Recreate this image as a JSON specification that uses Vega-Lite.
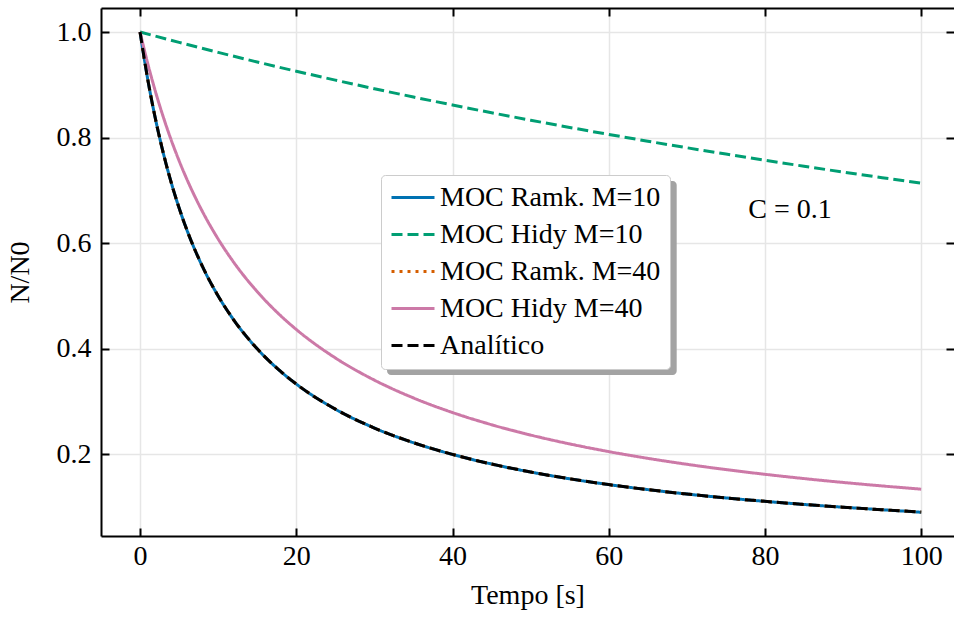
{
  "$schema": "https://vega.github.io/schema/vega-lite/v6.json",
  "width": 853,
  "height": 528,
  "autosize": {"type": "none"},
  "padding": {"left": 101, "top": 8, "right": 0, "bottom": 82},
  "background": "white",
  "config": {
    "font": "Liberation Serif",
    "view": {"stroke": null},
    "legend": {
      "orient": "none",
      "legendX": 280,
      "legendY": 167,
      "title": null,
      "symbolType": "stroke",
      "symbolSize": 1849,
      "symbolStrokeWidth": 3,
      "labelFont": "Liberation Serif",
      "labelFontSize": 28,
      "labelColor": "black",
      "labelLimit": 400,
      "labelOffset": 4,
      "padding": 9,
      "rowPadding": 8,
      "clipHeight": 27,
      "fillColor": "white",
      "strokeColor": "#cccccc",
      "cornerRadius": 4
    }
  },
  "data": {
    "values": [
      {"t": 0, "y": 1, "s": "MOC Ramk. M=10"},
      {"t": 1, "y": 0.90909, "s": "MOC Ramk. M=10"},
      {"t": 2, "y": 0.83333, "s": "MOC Ramk. M=10"},
      {"t": 3, "y": 0.76923, "s": "MOC Ramk. M=10"},
      {"t": 4, "y": 0.71429, "s": "MOC Ramk. M=10"},
      {"t": 5, "y": 0.66667, "s": "MOC Ramk. M=10"},
      {"t": 6, "y": 0.625, "s": "MOC Ramk. M=10"},
      {"t": 8, "y": 0.55556, "s": "MOC Ramk. M=10"},
      {"t": 10, "y": 0.5, "s": "MOC Ramk. M=10"},
      {"t": 12, "y": 0.45455, "s": "MOC Ramk. M=10"},
      {"t": 15, "y": 0.4, "s": "MOC Ramk. M=10"},
      {"t": 18, "y": 0.35714, "s": "MOC Ramk. M=10"},
      {"t": 20, "y": 0.33333, "s": "MOC Ramk. M=10"},
      {"t": 25, "y": 0.28571, "s": "MOC Ramk. M=10"},
      {"t": 30, "y": 0.25, "s": "MOC Ramk. M=10"},
      {"t": 35, "y": 0.22222, "s": "MOC Ramk. M=10"},
      {"t": 40, "y": 0.2, "s": "MOC Ramk. M=10"},
      {"t": 45, "y": 0.18182, "s": "MOC Ramk. M=10"},
      {"t": 50, "y": 0.16667, "s": "MOC Ramk. M=10"},
      {"t": 55, "y": 0.15385, "s": "MOC Ramk. M=10"},
      {"t": 60, "y": 0.14286, "s": "MOC Ramk. M=10"},
      {"t": 65, "y": 0.13333, "s": "MOC Ramk. M=10"},
      {"t": 70, "y": 0.125, "s": "MOC Ramk. M=10"},
      {"t": 75, "y": 0.11765, "s": "MOC Ramk. M=10"},
      {"t": 80, "y": 0.11111, "s": "MOC Ramk. M=10"},
      {"t": 85, "y": 0.10526, "s": "MOC Ramk. M=10"},
      {"t": 90, "y": 0.1, "s": "MOC Ramk. M=10"},
      {"t": 95, "y": 0.09524, "s": "MOC Ramk. M=10"},
      {"t": 100, "y": 0.0905, "s": "MOC Ramk. M=10"},

      {"t": 0, "y": 1, "s": "MOC Hidy M=10"},
      {"t": 5, "y": 0.98034, "s": "MOC Hidy M=10"},
      {"t": 10, "y": 0.96145, "s": "MOC Hidy M=10"},
      {"t": 15, "y": 0.94326, "s": "MOC Hidy M=10"},
      {"t": 20, "y": 0.92575, "s": "MOC Hidy M=10"},
      {"t": 25, "y": 0.90888, "s": "MOC Hidy M=10"},
      {"t": 30, "y": 0.89262, "s": "MOC Hidy M=10"},
      {"t": 35, "y": 0.87692, "s": "MOC Hidy M=10"},
      {"t": 40, "y": 0.86177, "s": "MOC Hidy M=10"},
      {"t": 45, "y": 0.84714, "s": "MOC Hidy M=10"},
      {"t": 50, "y": 0.83299, "s": "MOC Hidy M=10"},
      {"t": 55, "y": 0.8193, "s": "MOC Hidy M=10"},
      {"t": 60, "y": 0.80606, "s": "MOC Hidy M=10"},
      {"t": 65, "y": 0.79324, "s": "MOC Hidy M=10"},
      {"t": 70, "y": 0.78082, "s": "MOC Hidy M=10"},
      {"t": 75, "y": 0.76879, "s": "MOC Hidy M=10"},
      {"t": 80, "y": 0.75712, "s": "MOC Hidy M=10"},
      {"t": 85, "y": 0.74579, "s": "MOC Hidy M=10"},
      {"t": 90, "y": 0.73481, "s": "MOC Hidy M=10"},
      {"t": 95, "y": 0.72414, "s": "MOC Hidy M=10"},
      {"t": 100, "y": 0.71378, "s": "MOC Hidy M=10"},

      {"t": 0, "y": 1, "s": "MOC Ramk. M=40"},
      {"t": 1, "y": 0.90909, "s": "MOC Ramk. M=40"},
      {"t": 2, "y": 0.83333, "s": "MOC Ramk. M=40"},
      {"t": 3, "y": 0.76923, "s": "MOC Ramk. M=40"},
      {"t": 4, "y": 0.71429, "s": "MOC Ramk. M=40"},
      {"t": 5, "y": 0.66667, "s": "MOC Ramk. M=40"},
      {"t": 6, "y": 0.625, "s": "MOC Ramk. M=40"},
      {"t": 8, "y": 0.55556, "s": "MOC Ramk. M=40"},
      {"t": 10, "y": 0.5, "s": "MOC Ramk. M=40"},
      {"t": 12, "y": 0.45455, "s": "MOC Ramk. M=40"},
      {"t": 15, "y": 0.4, "s": "MOC Ramk. M=40"},
      {"t": 18, "y": 0.35714, "s": "MOC Ramk. M=40"},
      {"t": 20, "y": 0.33333, "s": "MOC Ramk. M=40"},
      {"t": 25, "y": 0.28571, "s": "MOC Ramk. M=40"},
      {"t": 30, "y": 0.25, "s": "MOC Ramk. M=40"},
      {"t": 35, "y": 0.22222, "s": "MOC Ramk. M=40"},
      {"t": 40, "y": 0.2, "s": "MOC Ramk. M=40"},
      {"t": 45, "y": 0.18182, "s": "MOC Ramk. M=40"},
      {"t": 50, "y": 0.16667, "s": "MOC Ramk. M=40"},
      {"t": 55, "y": 0.15385, "s": "MOC Ramk. M=40"},
      {"t": 60, "y": 0.14286, "s": "MOC Ramk. M=40"},
      {"t": 65, "y": 0.13333, "s": "MOC Ramk. M=40"},
      {"t": 70, "y": 0.125, "s": "MOC Ramk. M=40"},
      {"t": 75, "y": 0.11765, "s": "MOC Ramk. M=40"},
      {"t": 80, "y": 0.11111, "s": "MOC Ramk. M=40"},
      {"t": 85, "y": 0.10526, "s": "MOC Ramk. M=40"},
      {"t": 90, "y": 0.1, "s": "MOC Ramk. M=40"},
      {"t": 95, "y": 0.09524, "s": "MOC Ramk. M=40"},
      {"t": 100, "y": 0.09091, "s": "MOC Ramk. M=40"},

      {"t": 0, "y": 1, "s": "MOC Hidy M=40"},
      {"t": 1, "y": 0.93941, "s": "MOC Hidy M=40"},
      {"t": 2, "y": 0.88574, "s": "MOC Hidy M=40"},
      {"t": 3, "y": 0.83787, "s": "MOC Hidy M=40"},
      {"t": 4, "y": 0.79491, "s": "MOC Hidy M=40"},
      {"t": 5, "y": 0.75614, "s": "MOC Hidy M=40"},
      {"t": 6, "y": 0.72098, "s": "MOC Hidy M=40"},
      {"t": 8, "y": 0.65963, "s": "MOC Hidy M=40"},
      {"t": 10, "y": 0.6079, "s": "MOC Hidy M=40"},
      {"t": 12, "y": 0.5637, "s": "MOC Hidy M=40"},
      {"t": 15, "y": 0.50826, "s": "MOC Hidy M=40"},
      {"t": 18, "y": 0.46275, "s": "MOC Hidy M=40"},
      {"t": 20, "y": 0.43668, "s": "MOC Hidy M=40"},
      {"t": 25, "y": 0.38278, "s": "MOC Hidy M=40"},
      {"t": 30, "y": 0.34072, "s": "MOC Hidy M=40"},
      {"t": 35, "y": 0.30698, "s": "MOC Hidy M=40"},
      {"t": 40, "y": 0.27933, "s": "MOC Hidy M=40"},
      {"t": 45, "y": 0.25625, "s": "MOC Hidy M=40"},
      {"t": 50, "y": 0.23669, "s": "MOC Hidy M=40"},
      {"t": 55, "y": 0.2199, "s": "MOC Hidy M=40"},
      {"t": 60, "y": 0.20534, "s": "MOC Hidy M=40"},
      {"t": 65, "y": 0.19259, "s": "MOC Hidy M=40"},
      {"t": 70, "y": 0.18132, "s": "MOC Hidy M=40"},
      {"t": 75, "y": 0.17131, "s": "MOC Hidy M=40"},
      {"t": 80, "y": 0.16234, "s": "MOC Hidy M=40"},
      {"t": 85, "y": 0.15426, "s": "MOC Hidy M=40"},
      {"t": 90, "y": 0.14695, "s": "MOC Hidy M=40"},
      {"t": 95, "y": 0.1403, "s": "MOC Hidy M=40"},
      {"t": 100, "y": 0.13423, "s": "MOC Hidy M=40"},

      {"t": 0, "y": 1, "s": "Analítico"},
      {"t": 1, "y": 0.90909, "s": "Analítico"},
      {"t": 2, "y": 0.83333, "s": "Analítico"},
      {"t": 3, "y": 0.76923, "s": "Analítico"},
      {"t": 4, "y": 0.71429, "s": "Analítico"},
      {"t": 5, "y": 0.66667, "s": "Analítico"},
      {"t": 6, "y": 0.625, "s": "Analítico"},
      {"t": 8, "y": 0.55556, "s": "Analítico"},
      {"t": 10, "y": 0.5, "s": "Analítico"},
      {"t": 12, "y": 0.45455, "s": "Analítico"},
      {"t": 15, "y": 0.4, "s": "Analítico"},
      {"t": 18, "y": 0.35714, "s": "Analítico"},
      {"t": 20, "y": 0.33333, "s": "Analítico"},
      {"t": 25, "y": 0.28571, "s": "Analítico"},
      {"t": 30, "y": 0.25, "s": "Analítico"},
      {"t": 35, "y": 0.22222, "s": "Analítico"},
      {"t": 40, "y": 0.2, "s": "Analítico"},
      {"t": 45, "y": 0.18182, "s": "Analítico"},
      {"t": 50, "y": 0.16667, "s": "Analítico"},
      {"t": 55, "y": 0.15385, "s": "Analítico"},
      {"t": 60, "y": 0.14286, "s": "Analítico"},
      {"t": 65, "y": 0.13333, "s": "Analítico"},
      {"t": 70, "y": 0.125, "s": "Analítico"},
      {"t": 75, "y": 0.11765, "s": "Analítico"},
      {"t": 80, "y": 0.11111, "s": "Analítico"},
      {"t": 85, "y": 0.10526, "s": "Analítico"},
      {"t": 90, "y": 0.1, "s": "Analítico"},
      {"t": 95, "y": 0.09524, "s": "Analítico"},
      {"t": 100, "y": 0.09091, "s": "Analítico"}
    ]
  },
  "layer": [
    {
      "data": {"values": [{"box": "shadow"}]},
      "mark": {"type": "rect", "color": "#a3a3a3", "cornerRadius": 4},
      "encoding": {
        "x": {"datum": 31.62, "type": "quantitative", "scale": {"domain": [-5, 104.2], "nice": false, "zero": false}, "axis": null},
        "x2": {"datum": 68.7},
        "y": {"datum": 0.7179, "type": "quantitative", "scale": {"domain": [0.0455, 1.0455], "nice": false, "zero": false}, "axis": null},
        "y2": {"datum": 0.3504}
      }
    },
    {
      "layer": [
        {
          "transform": [{"filter": "datum.s == 'MOC Ramk. M=10'"}],
          "mark": {"type": "line", "strokeWidth": 3, "interpolate": "monotone", "strokeCap": "butt"},
          "encoding": {
            "x": {"field": "t", "type": "quantitative", "scale": {"domain": [-5, 104.2], "nice": false, "zero": false},
              "axis": {"orient": "bottom", "values": [0, 20, 40, 60, 80, 100], "format": "d", "title": "Tempo [s]",
                "grid": true, "gridColor": "#e6e6e6", "gridWidth": 1.5,
                "domainColor": "black", "domainWidth": 2, "tickColor": "black", "tickWidth": 2, "tickSize": -8,
                "labelPadding": 14, "labelFont": "Liberation Serif", "labelFontSize": 28, "labelColor": "black",
                "titleFont": "Liberation Serif", "titleFontSize": 28, "titleFontWeight": "normal", "titleColor": "black", "titlePadding": 11}},
            "y": {"field": "y", "type": "quantitative", "scale": {"domain": [0.0455, 1.0455], "nice": false, "zero": false},
              "axis": {"orient": "left", "values": [0.2, 0.4, 0.6, 0.8, 1.0], "format": ".1f", "title": "N/N0",
                "grid": true, "gridColor": "#e6e6e6", "gridWidth": 1.5,
                "domainColor": "black", "domainWidth": 2, "tickColor": "black", "tickWidth": 2, "tickSize": -8,
                "labelPadding": 18, "labelFont": "Liberation Serif", "labelFontSize": 28, "labelColor": "black",
                "titleFont": "Liberation Serif", "titleFontSize": 28, "titleFontWeight": "normal", "titleColor": "black", "titlePadding": 22}}
          }
        },
        {
          "transform": [{"filter": "datum.s == 'MOC Hidy M=10'"}],
          "mark": {"type": "line", "strokeWidth": 3, "interpolate": "monotone", "strokeCap": "butt"},
          "encoding": {
            "x": {"field": "t", "type": "quantitative", "scale": {"domain": [-5, 104.2], "nice": false, "zero": false},
              "axis": {"orient": "top", "values": [0, 20, 40, 60, 80, 100], "labels": false, "title": null, "grid": false,
                "domainColor": "black", "domainWidth": 2, "tickColor": "black", "tickWidth": 2, "tickSize": -8}},
            "y": {"field": "y", "type": "quantitative", "scale": {"domain": [0.0455, 1.0455], "nice": false, "zero": false},
              "axis": {"orient": "right", "values": [0.2, 0.4, 0.6, 0.8, 1.0], "labels": false, "title": null, "grid": false,
                "domain": false, "tickColor": "black", "tickWidth": 2, "tickSize": -8}}
          }
        },
        {
          "transform": [{"filter": "datum.s == 'MOC Ramk. M=40'"}],
          "mark": {"type": "line", "strokeWidth": 3, "interpolate": "monotone", "strokeCap": "butt"}
        },
        {
          "transform": [{"filter": "datum.s == 'MOC Hidy M=40'"}],
          "mark": {"type": "line", "strokeWidth": 3, "interpolate": "monotone", "strokeCap": "butt"}
        },
        {
          "transform": [{"filter": "datum.s == 'Analítico'"}],
          "mark": {"type": "line", "strokeWidth": 3, "interpolate": "monotone", "strokeCap": "butt"}
        }
      ],
      "encoding": {
        "x": {"field": "t", "type": "quantitative", "scale": {"domain": [-5, 104.2], "nice": false, "zero": false}, "axis": null},
        "y": {"field": "y", "type": "quantitative", "scale": {"domain": [0.0455, 1.0455], "nice": false, "zero": false}, "axis": null},
        "color": {"field": "s", "type": "nominal",
          "scale": {"domain": ["MOC Ramk. M=10", "MOC Hidy M=10", "MOC Ramk. M=40", "MOC Hidy M=40", "Analítico"],
            "range": ["#0072B2", "#009E73", "#D55E00", "#CC79A7", "#000000"]},
          "legend": {"title": null, "labelFont": "Liberation Serif"}},
        "strokeDash": {"field": "s", "type": "nominal",
          "scale": {"domain": ["MOC Ramk. M=10", "MOC Hidy M=10", "MOC Ramk. M=40", "MOC Hidy M=40", "Analítico"],
            "range": [[1, 0], [11, 5], [3, 5], [1, 0], [11, 5]]},
          "legend": {"title": null, "labelFont": "Liberation Serif"}}
      }
    },
    {
      "data": {"values": [{"label": "C = 0.1"}]},
      "mark": {"type": "text", "fontSize": 28, "font": "Liberation Serif", "color": "black", "align": "center", "baseline": "middle"},
      "encoding": {
        "x": {"datum": 83.2, "type": "quantitative", "scale": {"domain": [-5, 104.2], "nice": false, "zero": false}, "axis": null},
        "y": {"datum": 0.663, "type": "quantitative", "scale": {"domain": [0.0455, 1.0455], "nice": false, "zero": false}, "axis": null},
        "text": {"field": "label"}
      }
    }
  ]
}
